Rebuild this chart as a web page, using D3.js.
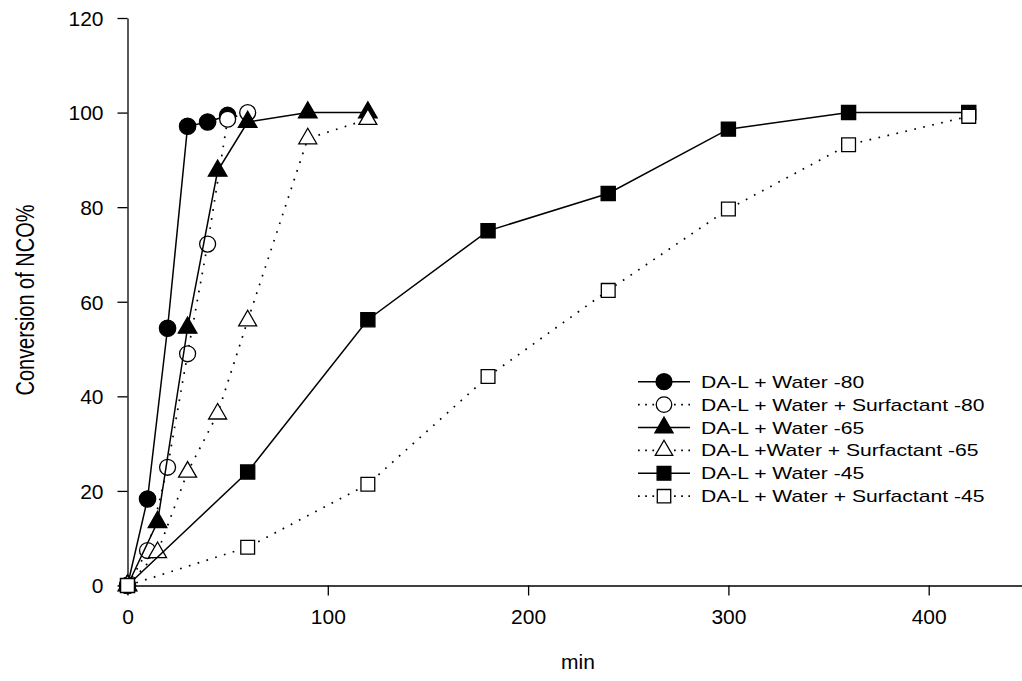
<!DOCTYPE html>
<html>
<head>
<meta charset="utf-8">
<script src="https://cdn.jsdelivr.net/npm/d3@7/dist/d3.min.js"></script>
<style>
  html, body { margin: 0; padding: 0; background: #fff; }
  svg { display: block; }
  text { font-family: Arial, "Liberation Sans", sans-serif; fill: #000; }
</style>
</head>
<body>
<svg id="chart" width="1022" height="681"></svg>
<script>
// ---- data ----
const seriesNames = [
  "DA-L + Water -80",
  "DA-L + Water + Surfactant -80",
  "DA-L + Water -65",
  "DA-L +Water + Surfactant -65",
  "DA-L + Water -45",
  "DA-L + Water + Surfactant -45"
];
const time80w  = [0, 10, 20, 30, 40, 50];
const conv80w  = [0, 18.3, 54.4, 97.1, 98.0, 99.4];
const time80s  = [0, 10, 20, 30, 40, 50, 60];
const conv80s  = [0, 7.4, 25.0, 49.0, 72.2, 98.6, 100];
const time65w  = [0, 15, 30, 45, 60, 90, 120];
const conv65w  = [0, 13.4, 54.5, 87.7, 98.0, 100, 100];
const time65s  = [0, 15, 30, 45, 60, 90, 120];
const conv65s  = [0, 7.0, 24.0, 36.3, 56.0, 94.5, 98.6];
const time45w  = [0, 60, 120, 180, 240, 300, 360, 420];
const conv45w  = [0, 24.0, 56.2, 75.0, 82.9, 96.5, 100, 100];
const time45s  = [0, 60, 120, 180, 240, 300, 360, 420];
const conv45s  = [0, 8.1, 21.4, 44.2, 62.4, 79.6, 93.2, 99.2];
const xTicks = [0, 100, 200, 300, 400];
const yTicks = [0, 20, 40, 60, 80, 100, 120];
const xTitle = "min";
const yTitle = "Conversion of NCO%";

// ---- styles per series ----
const styles = [
  { sym: d3.symbolCircle,   size: 210, fill: "#000", dotted: false },
  { sym: d3.symbolCircle,   size: 200, fill: "#fff", dotted: true },
  { sym: d3.symbolTriangle, size: 150, fill: "#000", dotted: false },
  { sym: d3.symbolTriangle, size: 140, fill: "#fff", dotted: true },
  { sym: d3.symbolSquare,   size: 200, fill: "#000", dotted: false },
  { sym: d3.symbolSquare,   size: 190, fill: "#fff", dotted: true }
];
const series = [
  [time80w, conv80w], [time80s, conv80s],
  [time65w, conv65w], [time65s, conv65s],
  [time45w, conv45w], [time45s, conv45s]
].map(([t, v], i) => ({ name: seriesNames[i], pts: t.map((d, j) => ({ t: d, v: v[j] })), st: styles[i] }));

const svg = d3.select("#chart");
const x = d3.scaleLinear().domain([0, 450]).range([127.5, 127.5 + 450 * 2.003]);
const y = d3.scaleLinear().domain([0, 120]).range([585.5, 18]);

// axes
const xAxis = svg.append("g").attr("transform", `translate(0,${y(0)})`)
  .call(d3.axisBottom(x).tickValues(xTicks).tickSize(10).tickPadding(14).tickSizeOuter(0));
const yAxis = svg.append("g").attr("transform", `translate(${x(0)},0)`)
  .call(d3.axisLeft(y).tickValues(yTicks).tickSize(10).tickPadding(14).tickSizeOuter(0));
[xAxis, yAxis].forEach(g => {
  g.selectAll("path, line").attr("stroke", "#000").attr("stroke-width", 1.3);
  g.selectAll("text").style("font-size", "21px").attr("fill", "#000")
   .style("font-family", 'Arial, "Liberation Sans", sans-serif');
});
yAxis.selectAll(".tick text").attr("dy", "0.35em");

// axis titles
svg.append("text").attr("x", 578).attr("y", 669).attr("text-anchor", "middle")
  .style("font-size", "21px").text(xTitle);
svg.append("text").attr("transform", "translate(34,300) scale(1.32,1) rotate(-90)")
  .attr("text-anchor", "middle").style("font-size", "20px").text(yTitle);

// series
const line = d3.line().x(d => x(d.t)).y(d => y(d.v));
series.forEach(s => {
  const g = svg.append("g");
  g.append("path").datum(s.pts).attr("d", line).attr("fill", "none")
    .attr("stroke", "#000").attr("stroke-width", s.st.dotted ? 1.7 : 1.5)
    .attr("stroke-dasharray", s.st.dotted ? "1.7,7.5" : null);
  g.selectAll("path.m").data(s.pts).join("path").attr("class", "m")
    .attr("transform", d => `translate(${x(d.t)},${y(d.v)})`)
    .attr("d", d3.symbol().type(s.st.sym).size(s.st.size))
    .attr("fill", s.st.fill).attr("stroke", "#000").attr("stroke-width", 1.3);
});

// legend
const legY0 = 381.7, legStep = 22.9;
const leg = svg.append("g");
series.forEach((s, i) => {
  const cy = legY0 + i * legStep;
  leg.append("line").attr("x1", 638).attr("x2", 690).attr("y1", cy).attr("y2", cy)
    .attr("stroke", "#000").attr("stroke-width", s.st.dotted ? 1.7 : 1.5)
    .attr("stroke-dasharray", s.st.dotted ? "1.7,5.5" : null);
  leg.append("path").attr("transform", `translate(664,${cy})`)
    .attr("d", d3.symbol().type(s.st.sym).size(s.st.size * 0.95))
    .attr("fill", s.st.fill === "#fff" ? "#fff" : "#000").attr("stroke", "#000").attr("stroke-width", 1.3);
  if (s.st.dotted) {
    // white gap behind open marker handled by its fill; nothing else
  }
  leg.append("text").attr("transform", `translate(701,${cy + 6}) scale(1.32,1)`)
    .style("font-size", "16px").text(s.name);
});
</script>
</body>
</html>
